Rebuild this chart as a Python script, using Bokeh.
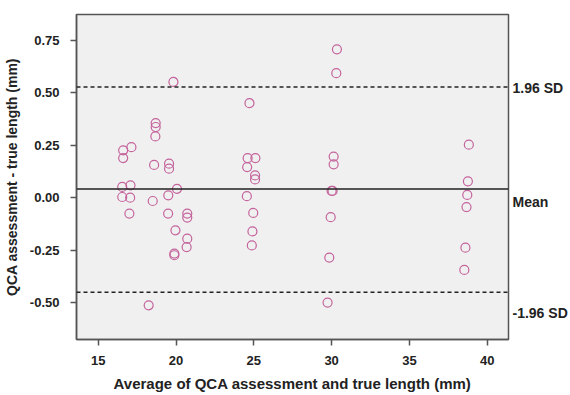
from bokeh.plotting import figure
from bokeh.models import Span, FixedTicker, NumeralTickFormatter, Range1d, LinearAxis
from bokeh.embed import file_html
from bokeh.resources import INLINE

avg_len = [16.6, 17.13, 16.6, 16.54, 17.07, 16.54, 17.05, 17.0,
           18.69, 18.69, 18.67, 18.59, 18.5, 18.24,
           19.83, 19.55, 19.55, 20.06, 19.5, 19.49, 19.96, 19.89, 19.89,
           20.72, 20.72, 20.72, 20.68,
           24.72, 24.6, 25.1, 24.57, 25.08, 25.08, 24.55, 24.96, 24.91, 24.87,
           30.34, 30.3, 30.13, 30.13, 30.06, 30.0, 29.94, 29.85, 29.74,
           38.82, 38.76, 38.72, 38.67, 38.6, 38.53]
diff = [0.226, 0.241, 0.189, 0.051, 0.059, 0.003, 0.0, -0.076,
        0.356, 0.337, 0.292, 0.156, -0.016, -0.514,
        0.552, 0.162, 0.138, 0.042, 0.011, -0.076, -0.156, -0.267, -0.275,
        -0.076, -0.095, -0.196, -0.236,
        0.451, 0.189, 0.189, 0.146, 0.106, 0.087, 0.007, -0.073, -0.161, -0.228,
        0.708, 0.594, 0.196, 0.159, 0.032, 0.032, -0.093, -0.286, -0.501,
        0.253, 0.078, 0.013, -0.045, -0.239, -0.345]

mean_diff = 0.041
upper_loa = 0.528
lower_loa = -0.452
x_ticks = [15, 20, 25, 30, 35, 40]
y_ticks = [-0.50, -0.25, 0.0, 0.25, 0.50, 0.75]
ref_labels = ["1.96 SD", "Mean", "-1.96 SD"]

y0, y1 = -0.677, 0.874
p = figure(width=570, height=395, output_backend="svg", toolbar_location=None,
           x_range=Range1d(13.6, 41.37), y_range=Range1d(y0, y1),
           min_border_left=76, min_border_top=14, min_border_right=62, min_border_bottom=56)

p.background_fill_color = "#f0f0f0"
p.border_fill_color = "white"
p.outline_line_color = "#555555"
p.outline_line_width = 1.5
p.xgrid.visible = False
p.ygrid.visible = False

p.xaxis.ticker = FixedTicker(ticks=x_ticks)
p.yaxis.ticker = FixedTicker(ticks=y_ticks)
p.yaxis.formatter = NumeralTickFormatter(format="0.00")
for ax in (p.xaxis[0], p.yaxis[0]):
    ax.major_label_text_font = "Liberation Sans"
    ax.major_label_text_font_style = "bold"
    ax.major_label_text_font_size = "13px"
    ax.major_label_text_color = "#222222"
    ax.axis_label_text_font = "Liberation Sans"
    ax.axis_label_text_font_style = "bold"
    ax.axis_label_text_color = "#222222"
    ax.axis_line_color = "#555555"
    ax.axis_line_width = 1.5
    ax.major_tick_line_color = "#555555"
    ax.major_tick_line_width = 1.5
    ax.major_tick_out = 6
    ax.major_tick_in = 0
    ax.minor_tick_line_color = None
p.xaxis.axis_label_text_font_size = "15px"
p.yaxis.axis_label_text_font_size = "14px"
p.xaxis.axis_label = "Average of QCA assessment and true length (mm)"
p.yaxis.axis_label = "QCA assessment - true length (mm)"
p.xaxis.major_label_standoff = 10
p.xaxis.axis_label_standoff = 7
p.yaxis.major_label_standoff = 11
p.yaxis.axis_label_standoff = 7

p.add_layout(Span(location=upper_loa, dimension="width", line_color="#222222",
                  line_width=1.5, line_dash="4 3"))
p.add_layout(Span(location=lower_loa, dimension="width", line_color="#222222",
                  line_width=1.5, line_dash="4 3"))
p.add_layout(Span(location=mean_diff, dimension="width", line_color="#222222",
                  line_width=1.5))

p.scatter(avg_len, diff, marker="circle", size=9, fill_color=None,
          line_color="#c4649c", line_width=1.2)

# right-hand labels for the reference lines, placed via a label-only axis
dpp = (y1 - y0) / 325.0  # data units per screen pixel
label_pos = [upper_loa - 1 * dpp, mean_diff - 13 * dpp, lower_loa - 21 * dpp]
rax = LinearAxis(ticker=FixedTicker(ticks=label_pos),
                 major_label_overrides={v: t for v, t in zip(label_pos, ref_labels)})
rax.axis_line_color = None
rax.major_tick_line_color = None
rax.minor_tick_line_color = None
rax.major_tick_out = 0
rax.major_tick_in = 0
rax.major_label_standoff = 4
rax.major_label_text_font = "Liberation Sans"
rax.major_label_text_font_style = "bold"
rax.major_label_text_font_size = "14px"
rax.major_label_text_color = "#222222"
p.add_layout(rax, "right")

open("out.html", "w").write(file_html(p, INLINE))
